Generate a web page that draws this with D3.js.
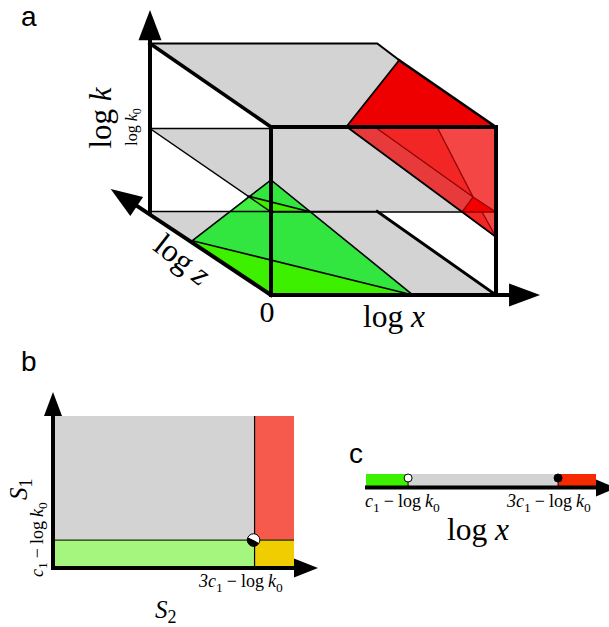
<!DOCTYPE html>
<html>
<head>
<meta charset="utf-8">
<script src="https://cdn.jsdelivr.net/npm/d3@7"></script>
<style>
html, body { margin: 0; padding: 0; background: #fff; }
svg { display: block; }
text { font-family: "Liberation Serif", serif; fill: #000; }
.panel { font-family: "Liberation Sans", sans-serif; font-size: 28px; }
</style>
</head>
<body>
<div id="chart"></div>
<script>
// panel a, vertices are [log x, log z, log k] in percent of the box
var k0 = 49.4;
var greyPlanes = [0, k0, 100];
var topRed = [[33.4, 0, 100], [100, 80, 100], [100, 0, 100]];
var redSheets = [
    { fill: "#e83a3a", pts: [[33.8, 0, 100], [46.2, 0, 100], [89.8, 0, 58.3], [84.9, 0, k0]] },
    { fill: "#f32626", pts: [[46.2, 0, 100], [73.8, 0, 100], [89.8, 0, 58.3]] },
    { fill: "#f54646", pts: [[73.8, 0, 100], [100, 0, 100], [100, 0, k0], [89.8, 0, 58.3]] },
    { fill: "#f40000", pts: [[89.8, 0, 58.3], [100, 0, k0], [84.9, 0, k0]] },
    { fill: "#f32626", pts: [[84.9, 0, k0], [93.8, 0, k0], [100, 0, 34.5]] },
    { fill: "#f54646", pts: [[93.8, 0, k0], [100, 0, k0], [100, 0, 34.5]] }
];
var redEdges = [
    [[46.2, 0, 100], [89.8, 0, 58.3]],
    [[73.8, 0, 100], [89.8, 0, 58.3]],
    [[89.8, 0, 58.3], [84.9, 0, k0]],
    [[89.8, 0, 58.3], [100, 0, k0]],
    [[84.9, 0, k0], [100, 0, k0]],
    [[93.8, 0, k0], [100, 0, 34.5]]
];
var greenSheets = [
    { fill: "#33e63f", pts: [[0, 65, 0], [0, 0, 68.5], [63.1, 0, 0]] },
    { fill: "#41ee41", pts: [[0, 19, k0], [0, 0, k0], [0, 34.2, 32.4]] },
    { fill: "#3df000", pts: [[0, 65, 0], [63.1, 0, 0], [0, 0, 0]] },
    { fill: "#3df000", pts: [[0, 19, k0], [17.8, 0, k0], [0, 0, k0]] }
];
var greenEdges = [
    [[0, 65, 0], [0, 0, 68.5], [63.1, 0, 0]],
    [[0, 65, 0], [63.1, 0, 0]],
    [[0, 19, k0], [17.8, 0, k0]]
];

// panel b
var s2Split = 0.835;
var s1Split = 0.173;
var bCells = [
    { x0: 0, x1: s2Split, y0: s1Split, y1: 1, fill: "#d3d3d3" },
    { x0: s2Split, x1: 1, y0: s1Split, y1: 1, fill: "#f65a4d" },
    { x0: 0, x1: s2Split, y0: 0, y1: s1Split, fill: "#a5f67f" },
    { x0: s2Split, x1: 1, y0: 0, y1: s1Split, fill: "#f0cd00" }
];

// panel c
var cLow = 0.183;
var cHigh = 0.835;
var cBands = [
    { x0: 0, x1: cLow, fill: "#3df000" },
    { x0: cLow, x1: cHigh, fill: "#d3d3d3" },
    { x0: cHigh, x1: 1, fill: "#f52a00" }
];

var svg = d3.select("#chart").append("svg").attr("width", 609).attr("height", 627);

var sx = d3.scaleLinear().domain([0, 100]).range([271, 496]);
var sk = d3.scaleLinear().domain([0, 100]).range([295, 127]);
var szx = d3.scaleLinear().domain([0, 100]).range([0, -121]);
var szy = d3.scaleLinear().domain([0, 100]).range([0, -83.5]);

function project(p) {
    return [sx(p[0]) + szx(p[1]), sk(p[2]) + szy(p[1])];
}
var line3 = d3.line().x(function(p) { return project(p)[0]; }).y(function(p) { return project(p)[1]; });

function stroke3(pts, w) {
    svg.append("path").attr("d", line3(pts)).attr("fill", "none").attr("stroke", "#000")
        .attr("stroke-width", w).attr("stroke-linecap", "square");
}
function arrow(tip, base, half) {
    // tip and base already in pixels, half = half width of the head
    var dx = tip[0] - base[0], dy = tip[1] - base[1];
    var len = Math.sqrt(dx * dx + dy * dy);
    var nx = -dy / len * half, ny = dx / len * half;
    svg.append("path")
        .attr("d", d3.line()([tip, [base[0] + nx, base[1] + ny], [base[0] - nx, base[1] - ny]]) + "Z")
        .attr("fill", "#000");
}

// grey planes
greyPlanes.forEach(function(k) {
    svg.append("path")
        .attr("d", line3([[0, 100, k], [101, 100, k], [100, 0, k], [0, 0, k]]) + "Z")
        .attr("fill", "#d3d3d3");
});

// red
svg.append("path").attr("d", line3(topRed) + "Z").attr("fill", "#ee0000");
redSheets.forEach(function(s) {
    svg.append("path").attr("d", line3(s.pts) + "Z").attr("fill", s.fill);
});
redEdges.forEach(function(e) {
    svg.append("path").attr("d", line3(e)).attr("fill", "none").attr("stroke", "#8f0000").attr("stroke-width", 1.3);
});

// green
greenSheets.forEach(function(s) {
    svg.append("path").attr("d", line3(s.pts) + "Z").attr("fill", s.fill);
});

// thin lines of the planes
stroke3([[0, 100, 0], [101, 100, 0]], 1.3);
stroke3([[0, 100, k0], [0, 0, k0]], 1.3);
stroke3([[0, 100, k0], [54, 100, k0]], 1.3);
stroke3([[0, 0, k0], [84.9, 0, k0]], 1.3);
stroke3([[0, 100, 100], [101, 100, 100], [100, 80, 100]], 2);
greenEdges.forEach(function(e) { stroke3(e, 1.6); });
stroke3([[33.4, 0, 100], [100, 80, 100]], 1.8);
stroke3([[33.8, 0, 100], [100, 0, 34.5]], 1.8);

// thick box
stroke3([[100, 80, 100], [100, 0, 100]], 2.6);
stroke3([[101, 100, 0], [100, 0, 0]], 3);
stroke3([[0, 100, 100], [0, 0, 100]], 3.6);
stroke3([[0, 100, 0], [0, 100, 103]], 4);
stroke3([[0, 0, 0], [0, 0, 100], [100, 0, 100], [100, 0, 0]], 4);
stroke3([[0, 0, 0], [0, 111, -2]], 4);
stroke3([[0, 0, 0], [105.8, 0, 0]], 4);

// axis heads
arrow(project([0, 100, 120]), project([0, 100, 102]), 11.5);
arrow(project([0, 132.5, -2.8]), project([0, 111, -2.5]), 11.5);
arrow(project([119.6, 0, 0]), project([105.8, 0, 0]), 11.5);

// text with sub scripts, parts are [string, italic, sub]
function mathText(x, y, size, parts, anchor, rotate, opts) {
    opts = opts || {};
    var subScale = opts.subScale || 0.75;
    var subDrop = opts.subDrop || 0.27;
    var t = svg.append("text").attr("font-size", size).attr("text-anchor", anchor || "start")
        .attr("word-spacing", opts.gap || 0)
        .attr("transform", "translate(" + x + "," + y + ") rotate(" + (rotate || 0) + ")");
    var shift = 0;
    parts.forEach(function(p) {
        var s = t.append("tspan").text(p[0]).attr("font-style", p[1] ? "italic" : "normal");
        var want = p[2] ? size * subDrop : 0;
        if (want != shift) s.attr("dy", want - shift);
        if (p[2]) s.attr("font-size", size * subScale);
        shift = want;
    });
    return t;
}

svg.append("text").attr("class", "panel").attr("x", 21).attr("y", 26).text("a");
svg.append("text").attr("class", "panel").attr("x", 21).attr("y", 371).text("b");
svg.append("text").attr("class", "panel").attr("x", 349).attr("y", 463).text("c");

mathText(111, 118, 31, [["log "], ["k", true]], "middle", -90);
mathText(137, 127, 16, [["log "], ["k", true], ["0", false, true]], "middle", -90);
mathText(176, 268, 32, [["log "], ["z", true]], "middle", 38);
mathText(267, 322, 30, [["0"]], "middle");
mathText(394, 327, 31.5, [["log "], ["x", true]], "middle");

// panel b
var bx = d3.scaleLinear().domain([0, 1]).range([55, 294]);
var by = d3.scaleLinear().domain([0, 1]).range([566, 416]);

svg.selectAll("rect.cell").data(bCells).enter().append("rect")
    .attr("class", "cell")
    .attr("x", function(d) { return bx(d.x0); })
    .attr("y", function(d) { return by(d.y1); })
    .attr("width", function(d) { return bx(d.x1) - bx(d.x0); })
    .attr("height", function(d) { return by(d.y0) - by(d.y1); })
    .attr("fill", function(d) { return d.fill; });

svg.append("line").attr("x1", bx(s2Split)).attr("x2", bx(s2Split)).attr("y1", by(1)).attr("y2", by(0))
    .attr("stroke", "#000").attr("stroke-width", 1.2);
svg.append("line").attr("x1", bx(0)).attr("x2", bx(1)).attr("y1", by(s1Split)).attr("y2", by(s1Split))
    .attr("stroke", "#1a3300").attr("stroke-width", 1.2);

svg.append("line").attr("x1", bx(0) - 2).attr("x2", bx(0) - 2).attr("y1", by(1)).attr("y2", by(0) + 4)
    .attr("stroke", "#000").attr("stroke-width", 4);
svg.append("line").attr("x1", bx(0) - 4).attr("x2", bx(1) + 2).attr("y1", by(0) + 2).attr("y2", by(0) + 2)
    .attr("stroke", "#000").attr("stroke-width", 4);
arrow([bx(0) - 2, 392], [bx(0) - 2, 416], 9);
arrow([318, by(0) + 2], [294, by(0) + 2], 9.5);

// half black half white point
var halfArc = d3.arc().innerRadius(0).outerRadius(6.3);
var marker = svg.append("g").attr("transform", "translate(" + (bx(s2Split) - 1) + "," + by(s1Split) + ")");
marker.append("path").attr("fill", "#000").attr("d", halfArc({ startAngle: Math.PI * 0.65, endAngle: Math.PI * 1.65 }));
marker.append("path").attr("fill", "#fff").attr("d", halfArc({ startAngle: -Math.PI * 0.35, endAngle: Math.PI * 0.65 }));
marker.append("circle").attr("r", 6.3).attr("fill", "none").attr("stroke", "#000").attr("stroke-width", 1);

var bigSub = { subScale: 0.72, subDrop: 0.18 };
mathText(199, 587, 18, [["3c", true], ["1", false, true], [" − log "], ["k", true], ["0", false, true]], "start", 0, { gap: -0.5 });
mathText(155, 618, 25, [["S", true], ["2", false, true]], "start", 0, bigSub);
mathText(27, 500, 25, [["S", true], ["1", false, true]], "start", -90, bigSub);
mathText(42.5, 577, 18, [["c", true], ["1", false, true], [" − log "], ["k", true], ["0", false, true]], "start", -90, { gap: -0.5 });

// panel c
var cx = d3.scaleLinear().domain([0, 1]).range([366, 596]);

svg.selectAll("rect.band").data(cBands).enter().append("rect")
    .attr("class", "band")
    .attr("x", function(d) { return cx(d.x0); })
    .attr("y", 474)
    .attr("width", function(d) { return cx(d.x1) - cx(d.x0); })
    .attr("height", 12)
    .attr("fill", function(d) { return d.fill; });

svg.append("line").attr("x1", 365).attr("x2", 598).attr("y1", 487.5).attr("y2", 487.5)
    .attr("stroke", "#000").attr("stroke-width", 4);
arrow([616, 488], [596, 488], 8.5);

[[cLow, "#fff"], [cHigh, "#000"]].forEach(function(d) {
    svg.append("line").attr("x1", cx(d[0])).attr("x2", cx(d[0])).attr("y1", 478).attr("y2", 487)
        .attr("stroke", "#000").attr("stroke-width", 1);
    svg.append("circle").attr("cx", cx(d[0])).attr("cy", 478).attr("r", 4)
        .attr("fill", d[1]).attr("stroke", "#000").attr("stroke-width", 1);
});

mathText(365, 507, 18, [["c", true], ["1", false, true], [" − log "], ["k", true], ["0", false, true]], "start", 0, { gap: -0.5 });
mathText(507, 507, 18, [["3c", true], ["1", false, true], [" − log "], ["k", true], ["0", false, true]], "start", 0, { gap: -0.5 });
mathText(478, 540, 31.5, [["log "], ["x", true]], "middle");
</script>
</body>
</html>
